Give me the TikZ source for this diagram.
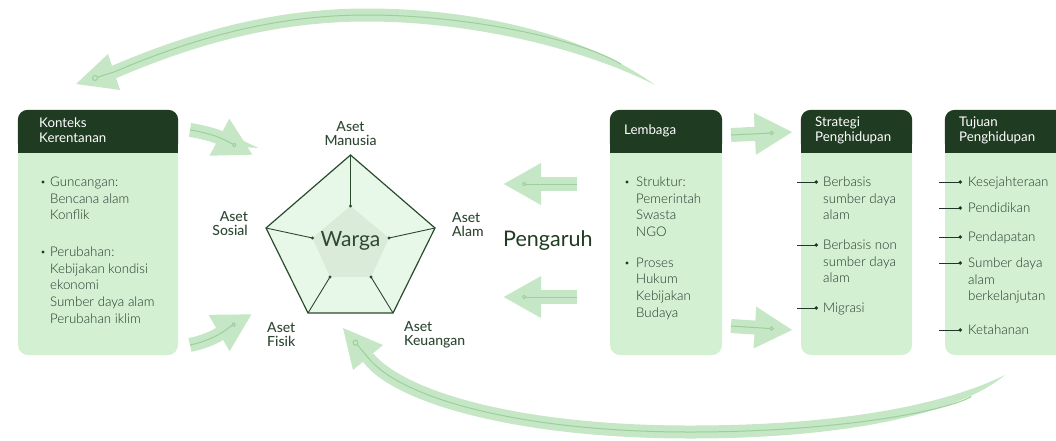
\documentclass[tikz,border=0pt]{standalone}
\usepackage{fontspec}
\setmainfont{Lato}
\newfontfamily\tipis{Lato Light}
\newfontfamily\sedang{Lato Medium}
\usetikzlibrary{arrows.meta}
\definecolor{hijautua}{HTML}{1F3B21}
\definecolor{hijaukotak}{HTML}{D3F0D3}
\definecolor{hijaupanah}{HTML}{C5E7C5}
\definecolor{garispanah}{HTML}{9DCF9D}
\definecolor{isilima}{HTML}{E8F8E8}
\definecolor{isidalam}{HTML}{DAEBDA}
\definecolor{garislima}{HTML}{2A4A2D}
\definecolor{teksaset}{HTML}{2E4733}
\definecolor{teksisi}{HTML}{22352A}
\tikzset{
  kotak/.style={fill=hijaukotak, rounded corners=10pt, inner sep=0pt},
  kepala/.style={fill=hijautua, rounded corners=10pt},
  judul/.style={anchor=north west, inner sep=0pt, align=left, text=white, font=\fontsize{13.3}{15}\selectfont},
  isi/.style={anchor=north west, inner sep=0pt, align=left, text=teksisi, font=\tipis\fontsize{13.3}{16.8}\selectfont},
  aset/.style={inner sep=0pt, text=teksaset, font=\sedang\fontsize{14}{14}\selectfont},
  titik/.style={circle, fill=teksisi, inner sep=0pt, minimum size=3.2pt},
  panah/.style={line width=14pt, hijaupanah, -{Triangle[length=38pt, width=39pt]}},
  garis/.style={line width=1pt, garispanah, shorten >=19pt, -{Circle[open, length=4.5pt, width=4.5pt]}},
  penanda/.style={line width=1pt, teksisi, -{Circle[length=3.5pt, width=3.5pt]}}
}
\begin{document}
\begin{tikzpicture}[x=1pt, y=-1pt]
    \useasboundingbox (0,0) rectangle (1056,440);
    % panah besar atas
    \fill[hijaupanah] (112,65.8) .. controls (198,29) and (280,8.5) .. (367,8.5) .. controls (475,8.5) and (585,34) .. (655,85) .. controls (580,47) and (468,21.5) .. (367,21.5) .. controls (282,21.5) and (203,41) .. (116,78.2) -- cycle;
    \fill[hijaupanah] (76,84) -- (108,54) -- (120,90) -- cycle;
    \draw[garispanah, line width=1pt, shorten >=40pt] (95,78) -- (114,72) .. controls (200.5,35) and (281,15) .. (367,15) .. controls (471.5,15) and (582.5,40.5) .. (655,85);
    \filldraw[fill=hijaupanah, draw=garispanah, line width=1pt] (95,78) circle (2.5);
    % panah besar bawah
    \fill[hijaupanah] (363,361.7) .. controls (393,403) and (517,438.5) .. (690,438.5) .. controls (845,438.5) and (958,414) .. (1005,375) .. controls (942,406) and (836,425.5) .. (690,425.5) .. controls (523,425.5) and (407,393) .. (373,353.3) -- cycle;
    \fill[hijaupanah] (343,328) -- (383,345) -- (353,370) -- cycle;
    \draw[garispanah, line width=1pt, shorten >=40pt] (355.5,342.75) -- (368,357.5) .. controls (400,398) and (520,432) .. (690,432) .. controls (840.5,432) and (950,410) .. (1005,375);
    \filldraw[fill=hijaupanah, draw=garispanah, line width=1pt] (355.5,342.75) circle (2.5);

    \node[kotak, minimum width=160pt, minimum height=245pt] (konteks) at (98,232.5) {};
    \node[kotak, minimum width=112pt, minimum height=245pt] (lembaga) at (666,232.5) {};
    \node[kotak, minimum width=111pt, minimum height=245pt] (strategi) at (856.5,232.5) {};
    \node[kotak, minimum width=130pt, minimum height=245pt] (tujuan) at (1010,232.5) {};
    \foreach \k in {konteks,lembaga,strategi,tujuan} {
      \fill[kepala] (\k.north west) rectangle ([yshift=-43pt]\k.north east);
      \fill[hijautua] ([yshift=-25pt]\k.north west) rectangle ([yshift=-43pt]\k.north east);
    }
    \node[judul] (judulkonteks) at (39,117) {Konteks\\Kerentanan};
    \node[judul] (judullembaga) at (624,124) {Lembaga};
    \node[judul] (judulstrategi) at (815,117) {Strategi\\Penghidupan};
    \node[judul] (judultujuan) at (959,117) {Tujuan\\Penghidupan};

    \node[titik] (t1) at (43,182) {};
    \node[isi] (guncangan) at (50,176.5) {Guncangan:\\Bencana alam\\Konflik};
    \node[titik] (t2) at (43,252) {};
    \node[isi] (perubahan) at (50,246.5) {Perubahan:\\Kebijakan kondisi\\ekonomi\\Sumber daya alam\\Perubahan iklim};
    \node[titik] (t3) at (627,182) {};
    \node[isi] (struktur) at (636,176.5) {Struktur:\\Pemerintah\\Swasta\\NGO};
    \node[titik] (t4) at (627,263) {};
    \node[isi] (proses) at (636,257.5) {Proses\\Hukum\\Kebijakan\\Budaya};

    \node[isi] (sda) at (823,176.5) {Berbasis\\sumber daya\\alam};
    \node[isi] (nonsda) at (823,239.5) {Berbasis non\\sumber daya\\alam};
    \node[isi] (migrasi) at (823,302.5) {Migrasi};
    \foreach \i in {sda,nonsda,migrasi}
      \draw[penanda] ([shift={(-26pt,-5.5pt)}]\i.north west) -- ++(21,0);

    \node[isi] (sejahtera) at (968,176.5) {Kesejahteraan};
    \node[isi] (didik) at (968,202.5) {Pendidikan};
    \node[isi] (dapat) at (968,231.5) {Pendapatan};
    \node[isi] (lestari) at (968,257.5) {Sumber daya\\alam\\berkelanjutan};
    \node[isi] (tahan) at (968,324.5) {Ketahanan};
    \foreach \i in {sejahtera,didik,dapat,lestari,tahan}
      \draw[penanda] ([shift={(-29pt,-5.5pt)}]\i.north west) -- ++(23,0);

    % segi lima aset
    \coordinate (luarA) at (350.5,155);
    \coordinate (luarB) at (435,228);
    \coordinate (luarC) at (393,313);
    \coordinate (luarD) at (308,313);
    \coordinate (luarE) at (266,228);
    \coordinate (dalamA) at (350.5,206);
    \coordinate (dalamB) at (389,238);
    \coordinate (dalamC) at (371,277);
    \coordinate (dalamD) at (330,277);
    \coordinate (dalamE) at (312.5,238);
    \filldraw[fill=isilima, draw=garislima, line width=1.2pt] (luarA) -- (luarB) -- (luarC) -- (luarD) -- (luarE) -- cycle;
    \fill[isidalam] (dalamA) -- (dalamB) -- (dalamC) -- (dalamD) -- (dalamE) -- cycle;
    \foreach \s in {A,B,C,D,E} {
      \draw[garislima, line width=0.9pt] (luar\s) -- (dalam\s);
      \fill[garislima] (dalam\s) circle (1.6);
    }
    \node[text=teksaset, font=\fontsize{21}{21}\selectfont] (warga) at (350.5,241) {Warga};
    \node[aset, align=center] (manusia) at (350.5,133.5) {Aset\\Manusia};
    \node[aset, align=right, anchor=east] (sosial) at (248,224) {Aset\\Sosial};
    \node[aset, align=left, anchor=west] (alam) at (452,225) {Aset\\Alam};
    \node[aset, align=left, anchor=west] (fisik) at (267,335) {Aset\\Fisik};
    \node[aset, align=left, anchor=west] (keuangan) at (404,335) {Aset\\Keuangan};
    \node[anchor=west, inner sep=0pt, text=hijautua, font=\fontsize{21.5}{21.5}\selectfont] (pengaruh) at (503,241) {Pengaruh};

    % panah kecil
    \draw[panah] (190,130) to[out=-8, in=152] (253,155);
    \draw[garis] (190,130) to[out=-8, in=152] (253,155);
    \draw[panah] (190,345) to[out=12, in=210] (252,314);
    \draw[garis] (190,345) to[out=12, in=210] (252,314);
    \draw[panah] ([xshift=-33pt]lembaga.west |- 0,184) -- (503,184);
    \draw[garis] ([xshift=-33pt]lembaga.west |- 0,184) -- (503,184);
    \draw[panah] ([xshift=-33pt]lembaga.west |- 0,297) -- (503,297);
    \draw[garis] ([xshift=-33pt]lembaga.west |- 0,297) -- (503,297);
    \draw[panah] (731,135) -- ([xshift=-8pt]strategi.west |- 0,132);
    \draw[garis] (731,135) -- ([xshift=-8pt]strategi.west |- 0,132);
    \draw[panah] (731,326) -- ([xshift=-8pt]strategi.west |- 0,330);
    \draw[garis] (731,326) -- ([xshift=-8pt]strategi.west |- 0,330);
\end{tikzpicture}
\end{document}
